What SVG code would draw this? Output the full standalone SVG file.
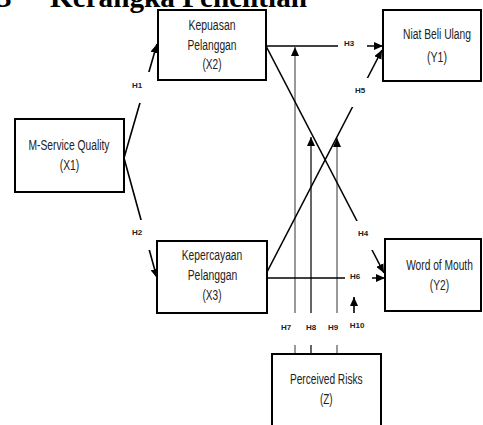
<svg xmlns="http://www.w3.org/2000/svg" width="483" height="425" viewBox="0 0 483 425">
<style>
.box{fill:#fff;stroke:#000;stroke-width:2}
.t{font-family:"Liberation Sans",Arial,sans-serif;font-size:14px;fill:#222;text-anchor:middle}
.h{font-family:"Liberation Sans",Arial,sans-serif;font-size:8px;font-weight:bold;fill:#222;text-anchor:middle}
.ln{stroke:#000;stroke-width:1.6;fill:none}
.g1{stroke:#999;stroke-width:2;fill:none}
.g2{stroke:#666;stroke-width:2;fill:none}
.lb{fill:#fff}
.title{font-family:"Liberation Serif","Times New Roman",serif;font-size:29px;font-weight:bold;fill:#000}
</style>
<defs>
<marker id="ah" markerUnits="userSpaceOnUse" markerWidth="10" markerHeight="8" refX="9" refY="4" orient="auto">
<path d="M0,0 L9,4 L0,8 z" fill="#000"/>
</marker>
</defs>
<text class="title" x="-3" y="7">3</text>
<text class="title" x="50" y="7" textLength="257" lengthAdjust="spacingAndGlyphs">Kerangka Penelitian</text>
<g id="connectors">
<path class="g1" d="M295,354 L295,47" marker-end="url(#ah)"/>
<path class="g2" d="M311,354 L311,137" marker-end="url(#ah)"/>
<path class="g1" d="M337,354 L337,138" marker-end="url(#ah)"/>
<path class="ln" d="M354,313 L354,297" marker-end="url(#ah)"/>
<path class="ln" d="M124,158 L157,44" marker-end="url(#ah)"/>
<path class="ln" d="M124,158 L157,278" marker-end="url(#ah)"/>
<path class="ln" stroke-width="2" d="M266,46 L383,46" marker-end="url(#ah)"/>
<path class="ln" d="M266,46 L384,273" marker-end="url(#ah)"/>
<path class="ln" d="M267,272 L382,50" marker-end="url(#ah)"/>
<path class="ln" stroke-width="2" d="M267,278 L385,278" marker-end="url(#ah)"/>
<rect class="lb" x="127" y="72" width="28" height="31"/>
<rect class="lb" x="127" y="220" width="28" height="30"/>
<rect class="lb" x="338" y="30" width="29" height="30"/>
<rect class="lb" x="350" y="78" width="26" height="29"/>
<rect class="lb" x="353" y="221" width="26" height="29"/>
<rect class="lb" x="345" y="262" width="27" height="26"/>
<rect class="lb" x="274" y="313" width="99" height="32"/>
<text class="h" x="137" y="88">H1</text>
<text class="h" x="137" y="235">H2</text>
<text class="h" x="349" y="46">H3</text>
<text class="h" x="363" y="236">H4</text>
<text class="h" x="360" y="93">H5</text>
<text class="h" x="355" y="279">H6</text>
<text class="h" x="286" y="330">H7</text>
<text class="h" x="311" y="330">H8</text>
<text class="h" x="333" y="330">H9</text>
<text class="h" x="357" y="328">H10</text>
</g>
<g id="X2">
<rect class="box" x="158" y="10" width="108" height="70"/>
<text class="t" x="212" y="30" textLength="47" lengthAdjust="spacingAndGlyphs">Kepuasan</text>
<text class="t" x="212" y="49.5" textLength="49" lengthAdjust="spacingAndGlyphs">Pelanggan</text>
<text class="t" x="212" y="69" textLength="19" lengthAdjust="spacingAndGlyphs">(X2)</text>
</g>
<g id="Y1">
<rect class="box" x="383" y="10" width="98" height="71"/>
<text class="t" x="437" y="39" textLength="68" lengthAdjust="spacingAndGlyphs">Niat Beli Ulang</text>
<text class="t" x="437" y="62" textLength="20" lengthAdjust="spacingAndGlyphs">(Y1)</text>
</g>
<g id="X1">
<rect class="box" x="15" y="119" width="109" height="73"/>
<text class="t" x="69" y="150" textLength="81" lengthAdjust="spacingAndGlyphs">M-Service Quality</text>
<text class="t" x="69.5" y="170" textLength="19.5" lengthAdjust="spacingAndGlyphs">(X1)</text>
</g>
<g id="X3">
<rect class="box" x="157" y="241" width="110" height="72"/>
<text class="t" x="212" y="260" textLength="60.6" lengthAdjust="spacingAndGlyphs">Kepercayaan</text>
<text class="t" x="212.5" y="280" textLength="49.6" lengthAdjust="spacingAndGlyphs">Pelanggan</text>
<text class="t" x="212" y="300" textLength="19" lengthAdjust="spacingAndGlyphs">(X3)</text>
</g>
<g id="Y2">
<rect class="box" x="385" y="239" width="96" height="72"/>
<text class="t" x="439.5" y="270" textLength="66.7" lengthAdjust="spacingAndGlyphs">Word of Mouth</text>
<text class="t" x="439.5" y="290" textLength="19.3" lengthAdjust="spacingAndGlyphs">(Y2)</text>
</g>
<g id="Z">
<rect class="box" x="272" y="354" width="109" height="80"/>
<text class="t" x="326.3" y="384" textLength="72.7" lengthAdjust="spacingAndGlyphs">Perceived Risks</text>
<text class="t" x="326.3" y="404" textLength="12.7" lengthAdjust="spacingAndGlyphs">(Z)</text>
</g>
</svg>
